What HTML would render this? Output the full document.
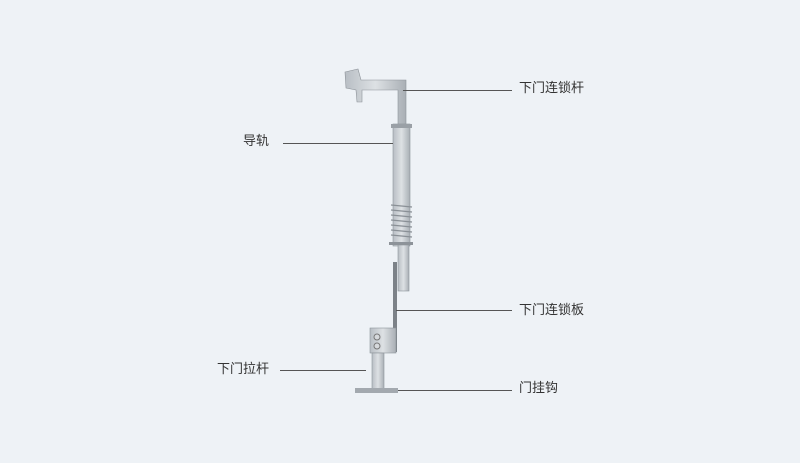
<!DOCTYPE html>
<html><head><meta charset="utf-8"><style>
body{margin:0;width:800px;height:463px;background:#eef2f6;position:relative;overflow:hidden;font-family:"Liberation Sans","Noto Sans CJK SC",sans-serif}
.t{position:absolute;font-size:13px;color:#333;line-height:16px;white-space:nowrap}
.l{position:absolute;height:1px;background:#555}
.p{position:absolute}
</style></head><body>
<svg class="p" style="left:0;top:0" width="800" height="463">
<defs><linearGradient id="g" x1="0" x2="1"><stop offset="0" stop-color="#b8bec4"/><stop offset="0.5" stop-color="#dde1e4"/><stop offset="1" stop-color="#a9afb5"/></linearGradient></defs>
<path d="M345 72 L358 69 L361 80 L406 80 L406 126 L398 126 L398 90 L362 90 L362 102 L357 102 L356 90 L346 88 Z" fill="url(#g)" stroke="#8d9399" stroke-width="0.6"/>
<rect x="393" y="124" width="17" height="122" fill="url(#g)" stroke="#8d9399" stroke-width="0.6"/>
<rect x="391" y="124" width="21" height="4" fill="#9aa0a6"/>
<g stroke="#8a9096" stroke-width="1.3">
<line x1="391" y1="205" x2="412" y2="207"/><line x1="391" y1="210" x2="412" y2="212"/><line x1="391" y1="215" x2="412" y2="217"/><line x1="391" y1="220" x2="412" y2="222"/><line x1="391" y1="225" x2="412" y2="227"/><line x1="391" y1="230" x2="412" y2="232"/><line x1="391" y1="235" x2="412" y2="237"/>
</g>
<rect x="389" y="242" width="24" height="3" fill="#8d9399"/>
<rect x="398" y="245" width="11" height="46" fill="url(#g)" stroke="#8d9399" stroke-width="0.6"/>
<rect x="393" y="262" width="4" height="90" fill="#7c8288"/>
<rect x="370" y="328" width="26" height="25" fill="url(#g)" stroke="#8d9399" stroke-width="0.6"/>
<circle cx="377" cy="337" r="3" fill="#d6d9dc" stroke="#777"/><circle cx="377" cy="346" r="3" fill="#d6d9dc" stroke="#777"/>
<rect x="372" y="353" width="12" height="36" fill="url(#g)" stroke="#8d9399" stroke-width="0.6"/>
<rect x="355" y="388" width="43" height="5" fill="#a3a9af"/>
</svg>
<div class="l" style="left:403px;top:90px;width:109px"></div>
<div class="t" style="left:519px;top:80px">下门连锁杆</div>
<div class="t" style="left:243px;top:133px">导轨</div>
<div class="l" style="left:283px;top:143px;width:110px"></div>
<div class="l" style="left:396px;top:310px;width:116px"></div>
<div class="t" style="left:519px;top:302px">下门连锁板</div>
<div class="t" style="left:217px;top:361px">下门拉杆</div>
<div class="l" style="left:280px;top:370px;width:86px"></div>
<div class="l" style="left:398px;top:390px;width:114px"></div>
<div class="t" style="left:519px;top:380px">门挂钩</div>
</body></html>
